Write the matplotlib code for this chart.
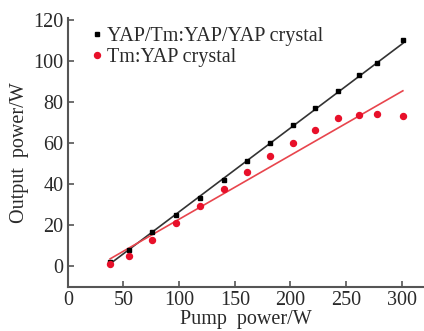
import numpy as np
import matplotlib
matplotlib.use("Agg")
from matplotlib import pyplot as plt

# measured data
pump = [38, 55, 76, 97, 119, 140, 161, 182, 202, 222, 243, 262, 278, 301]
out_composite = [2.0, 8.1, 16.7, 25.2, 33.5, 42.3, 51.5, 60.3, 68.8, 77.1, 85.5, 93.3, 99.0, 110.0]
out_single = [1.3, 4.9, 12.7, 21.1, 29.4, 37.9, 46.2, 54.0, 60.2, 66.2, 72.2, 73.5, 74.0, 73.2]

# linear fit lines (end points)
fit_x = [38, 301]
fit_composite = [1.3, 108.6]
fit_single = [3.7, 85.5]

xticks = [0, 50, 100, 150, 200, 250, 300]
yticks = [0, 20, 40, 60, 80, 100, 120]

plt.rcParams['font.family'] = ['Liberation Serif', 'DejaVu Serif']
txt = '#2a2a2a'
fs = 14.5

fig = plt.figure(figsize=(4.24, 3.31), dpi=100)
ax = fig.add_axes([0.160, 0.133, 0.840, 0.813])

ax.plot(fit_x, fit_composite, color='#333333', lw=1.2)
ax.plot(fit_x, fit_single, color='#e8454d', lw=1.2)
ax.plot(pump, out_composite, 's', color='black', ms=3.3, ls='none',
        label='YAP/Tm:YAP/YAP crystal')
ax.plot(pump, out_single, 'o', color='#e8102a', ms=4.3, ls='none',
        label='Tm:YAP crystal')

ax.set_xlim(0, 320)
ax.set_ylim(-10, 121)
ax.set_xticks(xticks)
ax.set_yticks(yticks)
for s in ['top', 'right']:
    ax.spines[s].set_visible(False)
for s in ['left', 'bottom']:
    ax.spines[s].set_color('#555555')
    ax.spines[s].set_linewidth(1.5)
ax.tick_params(direction='in', length=4, width=1.2, colors='#555555',
               labelcolor=txt, labelsize=fs, pad=3)

ax.set_xlabel('Pump  power/W', fontsize=fs, color=txt, labelpad=0)
ax.set_ylabel('Output  power/W', fontsize=fs, color=txt, labelpad=3)

ax.legend(loc='upper left', bbox_to_anchor=(0.03, 1.02), frameon=False,
          fontsize=fs, handlelength=0.4, handletextpad=0.3,
          labelspacing=0.1, borderaxespad=0.3, labelcolor=txt)

fig.savefig('out.png', dpi=100)
